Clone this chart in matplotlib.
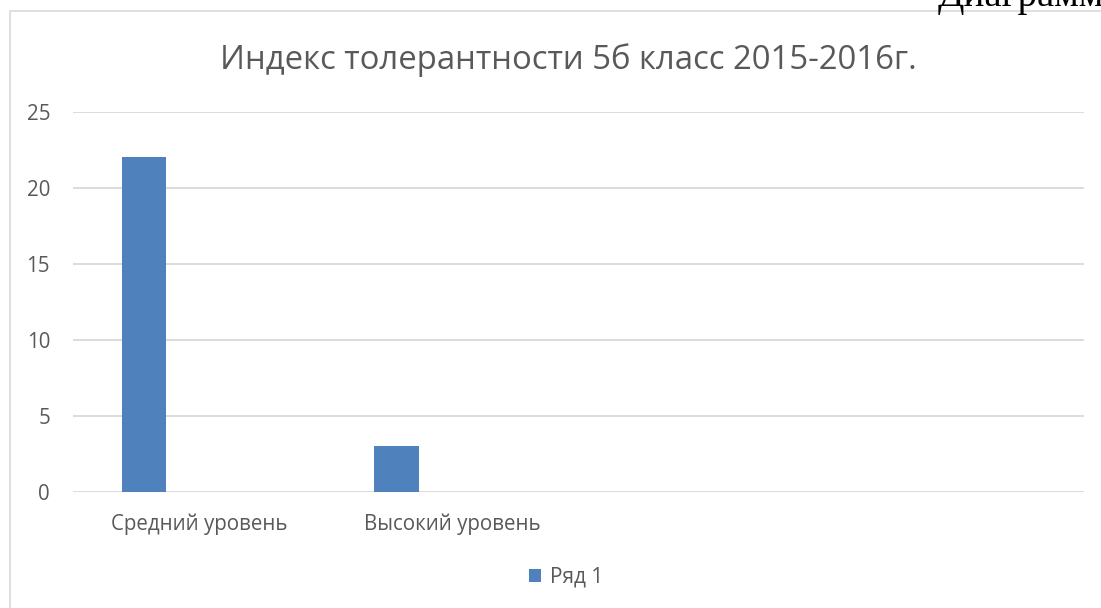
import matplotlib.pyplot as plt
from matplotlib.patches import Rectangle

categories = ["Средний уровень", "Высокий уровень", "", ""]
values = [22, 3, 0, 0]
series_name = "Ряд 1"
title = "Индекс толерантности 5б класс 2015-2016г."
yticks = [0, 5, 10, 15, 20, 25]

W, H = 1101, 608
plt.rcParams["font.family"] = ["Open Sans", "DejaVu Sans"]
text_c = "#595959"
grid_c = "#d9d9d9"
bar_c = "#4f81bd"

fig = plt.figure(figsize=(W / 100, H / 100), dpi=100)

# chart border (clipped on right/bottom like the screenshot)
fig.patches.append(Rectangle((10 / W, -0.1), 1.2, (H - 11) / H + 0.1,
                             transform=fig.transFigure, fill=False,
                             ec=grid_c, lw=1.2))
# page text above the chart, cut by the top edge as in the screenshot
fig.text(938 / W, 1 - 6 / H, "Диаграмм", family="Liberation Serif",
         fontsize=28, color="black", va="baseline", ha="left")

ax = fig.add_axes([73 / W, 116.5 / H, 1011 / W, 380 / H])
x = list(range(len(categories)))
bar_x = [i - 0.22 for i in x]
ax.bar(bar_x, values, width=0.175, color=bar_c, label=series_name, zorder=3)

ax.set_xlim(-0.5, len(categories) - 0.5)
ax.set_ylim(0, 25)
ax.set_yticks(yticks)
ax.set_xticks(x)
ax.set_xticklabels(categories)
ax.yaxis.grid(True, color=grid_c, lw=1.3)
for s in ax.spines.values():
    s.set_visible(False)
ax.tick_params(axis="both", length=0, labelsize=14.8, labelcolor=text_c)
ax.tick_params(axis="y", pad=16.5)
ax.tick_params(axis="x", pad=15.5)

fig.text(568 / W, 1 - 60 / H, title, ha="center", va="center",
         fontsize=23.7, color=text_c)
leg = fig.legend(loc="center", bbox_to_anchor=(566 / W, 1 - 577 / H),
                 frameon=False, fontsize=15, handlelength=0.6,
                 handleheight=0.6, handletextpad=0.4)
for t in leg.get_texts():
    t.set_color(text_c)

fig.savefig("out.png", dpi=100)
